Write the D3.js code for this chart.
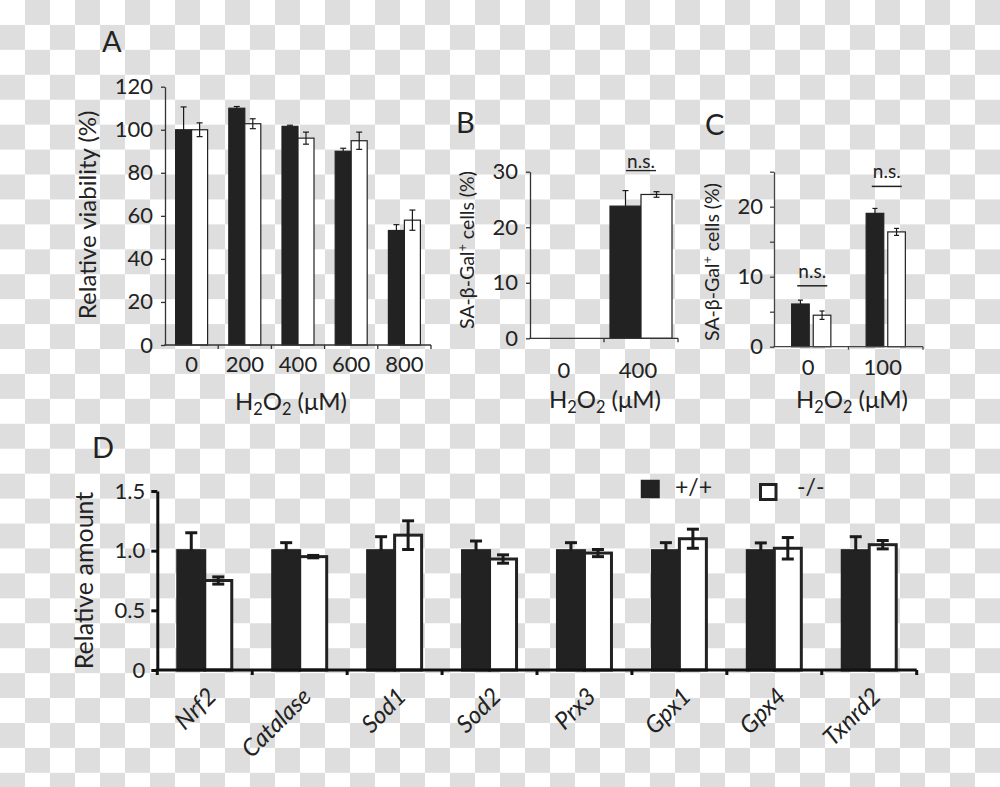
<!DOCTYPE html>
<html><head><meta charset="utf-8">
<script src="https://cdn.jsdelivr.net/npm/d3@7"></script>
<style>body{margin:0;background:#fff}svg{display:block}text{font-family:Lato,"Open Sans",sans-serif;fill:#222}</style>
</head><body><svg id="c" width="1000" height="787"></svg>
<script>
// ---------- data ----------
const groups = ["+/+", "-/-"];

const aDoses = ["0", "200", "400", "600", "800"];
const aWT = [100, 110, 101.6, 90, 53.2];
const aWTerr = [10.6, 0.8, 0.5, 1.4, 2.7];
const aKO = [100, 102.8, 96.1, 94.9, 58];
const aKOerr = [3.2, 2.3, 2.8, 4, 4.7];
const aTicks = [0, 20, 40, 60, 80, 100, 120];

const bDoses = ["0", "400"];
const bWT = [0, 23.8];
const bWTerr = [0, 2.8];
const bKO = [0, 25.9];
const bKOerr = [0, 0.5];
const bTicks = [0, 10, 20, 30];
const bNS = [null, 30.2];

const cDoses = ["0", "100"];
const cWT = [6.1, 19.05];
const cWTerr = [0.55, 0.7];
const cKO = [4.5, 16.4];
const cKOerr = [0.6, 0.5];
const cTicks = [0, 5, 10, 15, 20, 25];
const cNS = [8.7, 22.9];

const genes = ["Nrf2", "Catalase", "Sod1", "Sod2", "Prx3", "Gpx1", "Gpx4", "Txnrd2"];
const dWT = [1, 1, 1, 1, 1, 1, 1, 1];
const dWTerr = [0.15, 0.067, 0.117, 0.081, 0.067, 0.067, 0.065, 0.117];
const dKO = [0.75, 0.95, 1.13, 0.93, 0.98, 1.10, 1.02, 1.05];
const dKOerr = [0.03, 0.01, 0.12, 0.035, 0.03, 0.08, 0.09, 0.035];
const dTicks = [0, 0.5, 1.0, 1.5];

// ---------- background (transparent-look checkerboard) ----------
const svg = d3.select("#c");
const defs = svg.append("defs");
const pat = defs.append("pattern").attr("id", "chk").attr("patternUnits", "userSpaceOnUse")
  .attr("width", 50).attr("height", 49.86);
pat.append("rect").attr("width", 50).attr("height", 49.86).attr("fill", "#fff");
pat.append("rect").attr("x", 25).attr("y", 0).attr("width", 25).attr("height", 24.93).attr("fill", "#dedede");
pat.append("rect").attr("x", 0).attr("y", 24.93).attr("width", 25).attr("height", 24.93).attr("fill", "#dedede");
svg.append("rect").attr("width", 1000).attr("height", 787).attr("fill", "url(#chk)");

function h2o2(g, x, y, size) {
  const t = g.append("text").attr("x", x).attr("y", y).attr("text-anchor", "middle").style("font-size", size + "px");
  t.append("tspan").text("H");
  t.append("tspan").attr("dy", 5).style("font-size", (size * 0.68) + "px").text("2");
  t.append("tspan").attr("dy", -5).text("O");
  t.append("tspan").attr("dy", 5).style("font-size", (size * 0.68) + "px").text("2");
  t.append("tspan").attr("dy", -5).text(" (\u03bcM)");
}
function saLabel(g, x, y, size) {
  const t = g.append("text").attr("transform", `translate(${x},${y}) rotate(-90)`)
    .attr("text-anchor", "middle").style("font-size", size + "px");
  t.append("tspan").text("SA-\u03b2-Gal");
  t.append("tspan").attr("dy", -7).style("font-size", (size * 0.65) + "px").text("+");
  t.append("tspan").attr("dy", 7).text(" cells (%)");
}

function drawPanel(cfg) {
  const g = svg.append("g");
  const x = d3.scaleBand().domain(cfg.cats).range(cfg.xRange);
  const x1 = d3.scaleBand().domain(groups).range([0, cfg.groupW]).paddingInner(cfg.innerPad || 0);
  const y = d3.scaleLinear().domain(cfg.yDomain).range(cfg.yRange);
  const off = (x.bandwidth() - cfg.groupW) / 2;
  const rows = cfg.cats.map((c, i) => ({
    c, vals: [{ k: "+/+", v: cfg.wt[i], e: cfg.wtErr[i] }, { k: "-/-", v: cfg.ko[i], e: cfg.koErr[i] }]
  }));
  const gg = g.selectAll("g.grp").data(rows).join("g").attr("class", "grp")
    .attr("transform", d => `translate(${x(d.c) + off},0)`);
  gg.selectAll("rect").data(d => d.vals).join("rect")
    .attr("x", d => x1(d.k)).attr("width", x1.bandwidth())
    .attr("y", d => y(d.v)).attr("height", d => y(0) - y(d.v))
    .attr("fill", d => d.k === "+/+" ? "#222" : "#fff")
    .attr("stroke", "#222").attr("stroke-width", cfg.sw);
  // error bars (the lower half of the dark bars' error bar is hidden in the bar)
  const eb = gg.selectAll("g.eb").data(d => d.vals.filter(v => v.e > 0)).join("g").attr("class", "eb")
    .attr("stroke", "#1a1a1a").attr("stroke-width", cfg.ew);
  const cxE = d => x1(d.k) + x1.bandwidth() / 2;
  eb.append("line").attr("x1", cxE).attr("x2", cxE)
    .attr("y1", d => d.k === "+/+" ? y(d.v) : y(d.v - d.e)).attr("y2", d => y(d.v + d.e));
  eb.append("line").attr("x1", d => cxE(d) - cfg.cap / 2).attr("x2", d => cxE(d) + cfg.cap / 2)
    .attr("y1", d => y(d.v + d.e)).attr("y2", d => y(d.v + d.e));
  eb.filter(d => d.k !== "+/+").append("line").attr("x1", d => cxE(d) - cfg.cap / 2).attr("x2", d => cxE(d) + cfg.cap / 2)
    .attr("y1", d => y(d.v - d.e)).attr("y2", d => y(d.v - d.e));
  // y axis
  const ya = g.append("g").attr("transform", `translate(${cfg.xRange[0]},0)`)
    .call(d3.axisLeft(y).tickValues(cfg.yTicks).tickSize(cfg.tickLen).tickSizeOuter(0)
      .tickPadding(cfg.tickPad).tickFormat(cfg.fmt));
  ya.selectAll("path,line").attr("stroke", cfg.axisColor).attr("stroke-width", cfg.aw);
  ya.selectAll("text").style("font-size", cfg.fs + "px").attr("fill", "#222").style("font-family", "Lato");
  // x axis
  const y0 = y(0);
  g.append("line").attr("x1", cfg.xRange[0] - cfg.aw / 2).attr("x2", cfg.xRange[1]).attr("y1", y0).attr("y2", y0)
    .attr("stroke", cfg.axisColor).attr("stroke-width", cfg.aw);
  const bounds = cfg.cats.map(c => x(c)).concat([x.range()[1]]).filter((b, i) => cfg.startTick || i > 0);
  g.selectAll("line.xt").data(bounds).join("line").attr("class", "xt")
    .attr("x1", d => d).attr("x2", d => d).attr("y1", y0).attr("y2", y0 + cfg.xTickLen)
    .attr("stroke", cfg.axisColor).attr("stroke-width", cfg.aw);
  return { g, x, y, off, x1 };
}

const fmtInt = d3.format("d");

// ---------- Panel A ----------
const A = drawPanel({
  cats: aDoses, wt: aWT, wtErr: aWTerr, ko: aKO, koErr: aKOerr,
  xRange: [165, 431], yDomain: [0, 120], yRange: [345, 86.7], groupW: 32,
  yTicks: aTicks, fmt: fmtInt, sw: 1.2, ew: 1.2, cap: 6, tickLen: 4, tickPad: 8,
  axisColor: "#333", aw: 1.3, fs: 22, xTickLen: 4
});
A.g.selectAll("text.xl").data(aDoses).join("text").attr("class", "xl")
  .attr("x", d => A.x(d) + A.x.bandwidth() / 2).attr("y", A.y(0) + 27)
  .attr("text-anchor", "middle").style("font-size", "22px").text(d => d);
A.g.append("text").attr("transform", `translate(96,${(A.y(0) + A.y(120)) / 2 - 1}) rotate(-90)`)
  .attr("text-anchor", "middle").style("font-size", "24px").text("Relative viability (%)");
h2o2(A.g, 291, 410, 24);
svg.append("text").attr("x", 102).attr("y", 52).style("font-size", "29px").text("A");

// ---------- Panel B ----------
const B = drawPanel({
  cats: bDoses, wt: bWT, wtErr: bWTerr, ko: bKO, koErr: bKOerr,
  xRange: [530, 678], yDomain: [0, 30], yRange: [338.3, 171.7], groupW: 62,
  yTicks: bTicks, fmt: fmtInt, sw: 1.2, ew: 1.2, cap: 6, tickLen: 4, tickPad: 8,
  axisColor: "#333", aw: 1.3, fs: 22, xTickLen: 4
});
B.g.selectAll("text.xl").data(bDoses).join("text").attr("class", "xl")
  .attr("x", d => B.x(d) + B.x.bandwidth() / 2 - 3).attr("y", B.y(0) + 40)
  .attr("text-anchor", "middle").style("font-size", "22px").text(d => d);
saLabel(B.g, 474, 250, 19.5);
h2o2(B.g, 605, 408, 24);
bDoses.forEach((d, i) => {
  if (bNS[i] == null) return;
  const cx = B.x(d) + B.x.bandwidth() / 2, ly = B.y(bNS[i]);
  B.g.append("text").attr("x", cx).attr("y", ly - 3).attr("text-anchor", "middle").style("font-size", "19px").text("n.s.");
  B.g.append("line").attr("x1", cx - 15).attr("x2", cx + 15).attr("y1", ly).attr("y2", ly).attr("stroke", "#222").attr("stroke-width", 1.3);
});
svg.append("text").attr("x", 456).attr("y", 133).style("font-size", "29px").text("B");

// ---------- Panel C ----------
const C = drawPanel({
  cats: cDoses, wt: cWT, wtErr: cWTerr, ko: cKO, koErr: cKOerr,
  xRange: [774, 923], yDomain: [0, 25], yRange: [346.7, 171.7], groupW: 39.2, innerPad: 0.185,
  yTicks: cTicks, fmt: d => (d % 10 === 0 ? d : ""), sw: 1.2, ew: 1.2, cap: 5, tickLen: 4, tickPad: 7,
  axisColor: "#444", aw: 1.3, fs: 22, xTickLen: 3
});
C.g.selectAll("text.xl").data(cDoses).join("text").attr("class", "xl")
  .attr("x", d => C.x(d) + C.x.bandwidth() / 2 - 3).attr("y", C.y(0) + 28)
  .attr("text-anchor", "middle").style("font-size", "22px").text(d => d);
saLabel(C.g, 719, 262, 19.5);
h2o2(C.g, 852, 408, 24);
cDoses.forEach((d, i) => {
  if (cNS[i] == null) return;
  const cx = C.x(d) + C.x.bandwidth() / 2 + 1, ly = C.y(cNS[i]);
  C.g.append("text").attr("x", cx).attr("y", ly - 8).attr("text-anchor", "middle").style("font-size", "19px").text("n.s.");
  C.g.append("line").attr("x1", cx - 15).attr("x2", cx + 15).attr("y1", ly).attr("y2", ly).attr("stroke", "#222").attr("stroke-width", 1.5);
});
svg.append("text").attr("x", 705).attr("y", 135).style("font-size", "29px").text("C");

// ---------- Panel D ----------
const D = drawPanel({
  cats: genes, wt: dWT, wtErr: dWTerr, ko: dKO, koErr: dKOerr,
  xRange: [157.3, 916.7], yDomain: [0, 1.5], yRange: [670, 491], groupW: 54,
  yTicks: dTicks, fmt: d => (d === 0 ? "0" : d3.format(".1f")(d)), sw: 3, ew: 3, cap: 12, tickLen: 6, tickPad: 6,
  axisColor: "#111", aw: 3, fs: 22, xTickLen: 5, startTick: true
});
D.g.selectAll("text.xl").data(genes).join("text").attr("class", "xl")
  .attr("transform", d => `translate(${D.x(d) + D.x.bandwidth() / 2 + 13},${D.y(0) + 28}) rotate(-45)`)
  .attr("text-anchor", "end").style("font-size", "24px").style("font-style", "italic").text(d => d);
D.g.append("text").attr("transform", `translate(93,${(D.y(0) + D.y(1.5)) / 2}) rotate(-90)`)
  .attr("text-anchor", "middle").style("font-size", "25px").text("Relative amount");
svg.append("text").attr("x", 92).attr("y", 458).style("font-size", "29px").text("D");
// legend
const lg = svg.append("g");
lg.append("rect").attr("x", 641.5).attr("y", 480.5).attr("width", 17.5).attr("height", 17).attr("fill", "#222").attr("stroke", "#222").attr("stroke-width", 1.5);
lg.append("text").attr("x", 675).attr("y", 495).style("font-size", "23px").text(groups[0]);
lg.append("rect").attr("x", 760.5).attr("y", 484.5).attr("width", 15.5).attr("height", 15).attr("fill", "#fff").attr("stroke", "#222").attr("stroke-width", 3);
lg.append("text").attr("x", 797).attr("y", 495).style("font-size", "23px").text(groups[1]);
</script></body></html>
